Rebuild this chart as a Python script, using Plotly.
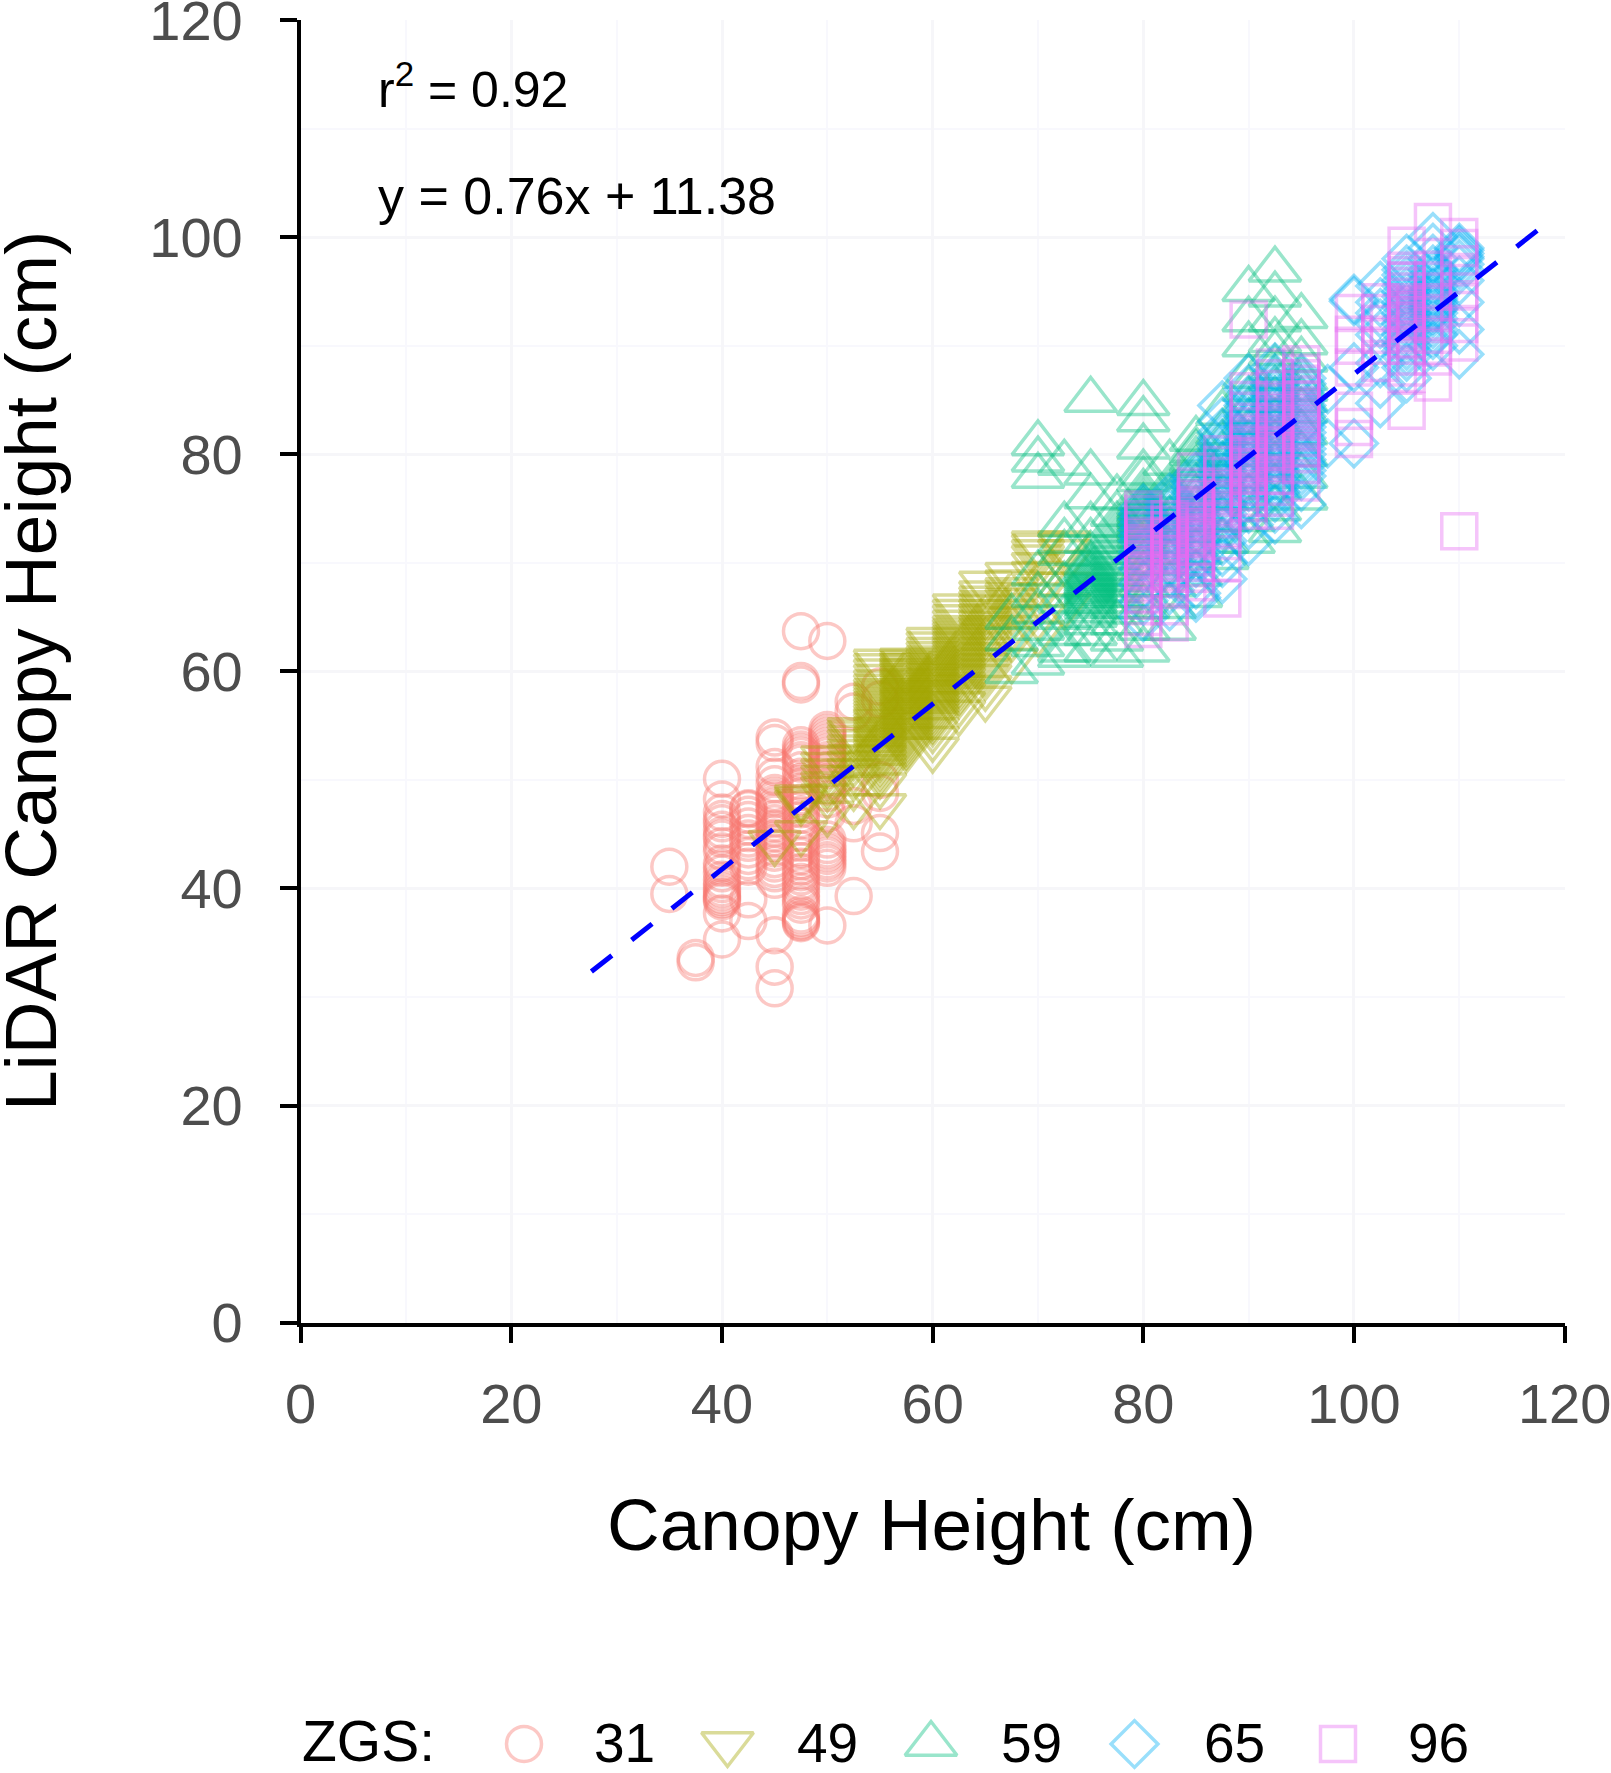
import plotly.graph_objects as go

W, H = 1611, 1773
X0, X1, Y0, Y1 = 300.7, 1564.6, 1322.7, 20.0

zgs_labels = ["31", "49", "59", "65", "96"]
zgs_colors = ["#F8766D", "#A3A500", "#00BF7D", "#00B0F6", "#E76BF3"]
zgs_symbols = ["circle-open", "triangle-down-open", "triangle-up-open", "diamond-open", "square-open"]
zgs_sizes = [35, 45, 45, 36, 35]

canopy_31 = [35, 37.5, 40, 42.5, 45, 47.5, 50, 52.5, 55]
lidar_31 = [
    [42, 39.5],
    [33.6, 33.2],
    [50.1, 48.2, 47, 46.4, 46, 45.4, 44.9, 44.6, 43.9, 43.4, 42.3, 41.9, 41.4, 40.8, 40.4, 40, 39.7, 39.4, 39.2, 39, 38.8, 37.7, 35.3],
    [47.4, 47.3, 46.8, 46.3, 45.7, 45.1, 44.6, 44.2, 43.6, 43, 42.5, 42, 39, 37],
    [53.9, 53.4, 51.2, 50.3, 49.6, 48.8, 48.5, 48.2, 47.8, 47.5, 47.2, 46.9, 46.4, 46, 45.5, 45.1, 44.6, 44.2, 43.7, 43.3, 42.7, 42.3, 41.8, 41.4, 40.8, 35.7, 32.8, 30.8],
    [63.7, 59.1, 58.8, 53.2, 52.8, 52.5, 52.2, 51.8, 51.5, 50.9, 50.3, 49.8, 49.4, 48.9, 48.5, 47.9, 47.3, 46.8, 46.3, 45.7, 45.1, 44.6, 44.2, 43.6, 43, 42.5, 42, 41.5, 41.1, 40.6, 40.2, 39.7, 39.3, 38.9, 38.5, 37.6, 37.3, 37.1, 36.9, 36.8],
    [62.8, 54.6, 54.3, 54, 53.7, 53.4, 53.1, 52.8, 52.5, 52.2, 51.8, 51.5, 50.9, 50.2, 49.8, 49.4, 48.8, 48.2, 46.9, 44.5, 44, 43.6, 43.3, 43, 42.6, 42.3, 41.9, 36.6],
    [57.2, 56.3, 47.6, 46, 39.3],
    [58.6, 57.4, 50, 48.8, 45.1, 43.4],
]

canopy_49 = [45, 47.5, 50, 52.5, 55, 57.5, 60, 62.5, 65, 67.5, 70, 72.5]
lidar_49 = [
    [44.2],
    [45.1, 47.9, 48.2, 48.4],
    [46.9, 48.5, 49.2, 49.6, 50.2, 50.8, 51.4, 52],
    [47.6, 49.3, 50.2, 50.8, 51.5, 52.1, 52.6, 53, 53.5, 53.9, 54.3, 54.6],
    [47.6, 49.5, 50.4, 50.8, 51.2, 51.6, 52, 52.2, 52.5, 52.8, 53, 53.3, 53.6, 53.8, 54.1, 54.4, 54.7, 55, 55.3, 55.5, 55.8, 56.1, 56.4, 56.7, 57, 57.3, 57.6, 57.9, 58.2, 58.6, 59, 59.5, 60, 60.5, 60.9],
    [52.8, 53.1, 53.4, 53.7, 54, 54.2, 54.5, 54.7, 55, 55.2, 55.5, 55.7, 56, 56.2, 56.4, 56.6, 56.9, 57.1, 57.3, 57.5, 57.8, 58, 58.2, 58.4, 58.7, 58.9, 59.1, 59.3, 59.6, 59.8, 60, 60.2, 60.5, 60.7, 61],
    [52.8, 53.8, 54.6, 55.2, 55.5, 55.8, 56.1, 56.4, 56.7, 57, 57.2, 57.5, 57.7, 58, 58.2, 58.5, 58.7, 59, 59.2, 59.5, 59.7, 60, 60.3, 60.6, 60.9, 61.2, 61.6, 62, 62.5, 62.9],
    [56.2, 57, 57.8, 58.1, 58.5, 58.8, 59.2, 59.5, 59.8, 60.1, 60.4, 60.7, 61, 61.3, 61.6, 61.9, 62.2, 62.5, 62.8, 63.1, 63.4, 63.7, 64, 64.5, 65, 65.5, 66],
    [57.5, 58.5, 59.5, 60, 60.5, 61, 61.5, 62, 62.5, 62.9, 63.3, 63.7, 64, 64.4, 64.8, 65.1, 65.5, 65.9, 66.3, 66.7, 67.2, 68.1],
    [61, 63, 64, 64.8, 65.5, 66, 66.5, 67, 67.5, 68.2, 68.9],
    [63.5, 65, 67, 68, 69, 69.8, 70.5, 71, 71.5, 71.8],
    [66, 68, 70, 71, 71.5, 71.8],
]

canopy_59 = [67.5, 70, 72.5, 75, 77.5, 80, 82.5, 85, 87.5, 90, 92.5, 95]
lidar_59 = [
    [60, 63, 65],
    [60.8, 62.5, 64, 65.5, 67, 69, 78, 79.5, 81],
    [61.5, 62, 63.5, 65, 66.5, 68, 70.9, 72, 73.5, 79.2],
    [62, 63.5, 64.5, 65.2, 65.6, 66, 66.3, 66.5, 66.8, 67, 67.2, 67.4, 67.6, 67.8, 68, 68.2, 68.4, 68.6, 68.8, 69, 69.2, 69.5, 69.8, 70, 70.8, 72, 73.5, 76.1, 78.3, 85],
    [61.5, 63, 64.5, 65.5, 66, 66.5, 67, 67.5, 68, 68.5, 69, 69.5, 70, 70.5, 71, 71.5, 72, 72.5, 73, 73.5, 74.5, 76],
    [62, 64, 66, 67, 68, 69, 70, 71, 71.5, 72, 72.5, 73, 73.3, 73.5, 73.8, 74, 74.3, 74.5, 74.8, 75, 75.2, 75.5, 76, 76.5, 77.7, 78.3, 80.7, 83.2, 84.7],
    [64, 66, 68, 70, 71, 72, 73, 74, 75, 75.5, 76, 76.5, 77, 79.2],
    [67, 69, 71, 73, 74, 75, 76, 77, 78, 78.6, 79, 79.5, 80.1, 80.4, 81.4],
    [70.5, 72, 74, 76, 77.5, 79, 80, 81, 82, 83.8],
    [72, 74, 76, 78, 80, 81, 82, 83, 84, 85, 86, 87.2, 90.1, 92.4, 95.2],
    [73, 75, 77, 79, 81, 83, 85, 86, 87, 88, 89.3, 90.5, 92.4, 94.7, 97],
    [76, 78, 80, 82, 84, 85, 86, 87, 88.7, 90.3, 92.7],
]

canopy_65 = [80, 82.5, 85, 87.5, 90, 92.5, 95, 97.5, 100, 102.5, 105, 107.5, 110]
lidar_65 = [
    [65, 66.5, 68, 69.5, 70.5, 71, 72, 72.5, 73, 73.5, 74, 74.5, 75],
    [66, 67.5, 69, 70, 70.5, 71, 71.5, 72, 72.5, 73, 73.5, 74, 74.5, 75, 75.5, 76],
    [66.8, 67.2, 68, 69, 70, 70.5, 71, 71.5, 72, 72.5, 73, 73.5, 74, 74.5, 75, 75.5, 76, 76.5, 77, 77.5, 78],
    [68.5, 70, 71, 72, 73, 73.5, 74, 74.5, 75, 75.5, 76, 76.5, 77, 77.5, 78, 78.5, 79, 79.5, 80, 80.5, 81, 81.5, 82, 83, 84.5],
    [72, 73.5, 75, 76, 77, 77.5, 78, 78.5, 79, 79.5, 80, 80.5, 81, 81.5, 82, 82.5, 83, 83.5, 84, 84.5, 85, 86, 87],
    [74, 75, 76, 76.5, 77, 77.5, 78, 78.5, 79, 79.5, 80, 80.5, 81, 81.5, 82, 82.5, 83, 83.5, 84, 84.5, 85, 85.5, 86, 86.5, 87, 88],
    [75.4, 77, 78, 78.5, 79, 79.5, 80, 80.5, 81, 81.5, 82, 82.5, 83, 83.5, 84, 84.5, 85, 85.5, 86, 86.5, 87],
    [81, 86],
    [81, 88, 94.1, 94.3],
    [84.7, 86.5, 88.4, 91, 92, 93, 94, 95.5],
    [87, 88, 89, 89.5, 90, 90.5, 91, 91.5, 92, 92.5, 93, 93.5, 94, 94.5, 95, 95.5, 96, 96.5, 97, 98],
    [90, 91, 91.5, 92, 92.5, 93, 93.3, 93.5, 93.8, 94, 94.3, 94.5, 94.8, 95, 95.5, 96, 96.5, 97, 98, 99, 100],
    [89.2, 91.5, 94, 96, 97, 97.5, 98, 98.2, 98.5, 98.8, 99],
]

canopy_96 = [80, 82.5, 85, 87.5, 90, 92.5, 95, 100, 102.5, 105, 107.5, 110]
lidar_96 = [
    [63.9, 65, 66, 66.5, 67, 67.5, 68, 68.5, 69, 69.3, 69.5, 69.8, 70, 70.3, 70.5, 70.8, 71, 71.3, 71.5, 71.8, 72, 72.3, 72.5, 73, 73.5, 74, 74.5, 74.9],
    [64.5, 66, 67.5, 68.5, 69, 69.5, 70, 70.2, 70.5, 70.8, 71, 71.3, 71.5, 71.8, 72, 72.3, 72.5, 73, 73.5, 74],
    [68.2, 69, 69.5, 70, 70.5, 71, 71.5, 72, 72.3, 72.5, 72.8, 73, 73.3, 73.5, 73.8, 74, 74.3, 74.5, 74.8, 75, 75.3, 75.5, 75.8, 76, 76.5, 77, 78.4],
    [66.7, 70, 72, 73, 74, 74.5, 75, 75.5, 76, 76.5, 77, 78, 79, 80],
    [74.8, 75.5, 76, 76.5, 77, 77.5, 78, 78.3, 78.5, 78.8, 79, 79.3, 79.5, 79.8, 80, 80.5, 81, 81.5, 82, 83, 84, 85, 85.8, 92.4],
    [74.8, 76, 77, 78, 79, 79.5, 80, 80.3, 80.5, 80.8, 81, 81.3, 81.5, 82, 82.5, 83, 83.5, 84, 85, 86, 87, 88],
    [77.4, 79, 80, 80.5, 81, 81.5, 82, 82.5, 83, 83.5, 84, 84.5, 85, 85.5, 86, 86.5, 87, 87.5, 88.3],
    [81.4, 82.5, 84, 88, 90, 91, 93],
    [88.4, 90, 91, 92, 93, 94],
    [84, 87.4, 88, 89, 90, 90.5, 91, 91.5, 92, 92.3, 92.5, 92.8, 93, 93.3, 93.5, 93.8, 94, 94.5, 95, 95.5, 96, 96.5, 96.9, 99.2],
    [86.6, 89, 90, 91, 92, 93, 94, 95, 96, 97, 101.4],
    [72.9, 90.3, 92, 94, 95, 96.5, 97.5, 99, 100],
]

fit_slope = 0.76
fit_intercept = 11.38
fit_x = [27.6, 117.6]
axis_ticks = [0, 20, 40, 60, 80, 100, 120]
legend_slots = [0, 1, 2, 3, 4]

FONT = "Liberation Sans"
GRID_MAJOR = "#f6f6f9"
GRID_MINOR = "#f8f8fd"

canopy_all = [canopy_31, canopy_49, canopy_59, canopy_65, canopy_96]
lidar_all = [lidar_31, lidar_49, lidar_59, lidar_65, lidar_96]

fig = go.Figure()
for i, label in enumerate(zgs_labels):
    xs, ys = [], []
    for c, col in zip(canopy_all[i], lidar_all[i]):
        xs += [c] * len(col)
        ys += col
    fig.add_trace(go.Scatter(
        x=xs, y=ys, mode="markers", name=label, showlegend=False,
        marker=dict(symbol=zgs_symbols[i], size=zgs_sizes[i], color=zgs_colors[i],
                    opacity=0.4, line=dict(width=3.5, color=zgs_colors[i])),
    ))

fig.add_trace(go.Scatter(
    x=fit_x, y=[fit_slope * v + fit_intercept for v in fit_x],
    mode="lines", showlegend=False,
    line=dict(color="#0000FF", width=5, dash="26px,25.1px"),
))

# Legend row: keys on a helper axis spanning the whole page width
KEY0, KEY_STEP = 524.0, 203.5
for i, label in enumerate(zgs_labels):
    fig.add_trace(go.Scatter(
        x=[legend_slots[i]], y=[0], xaxis="x2", yaxis="y2", mode="markers",
        showlegend=False, cliponaxis=False,
        marker=dict(symbol=zgs_symbols[i], size=zgs_sizes[i], color=zgs_colors[i],
                    opacity=0.4, line=dict(width=3.5, color=zgs_colors[i])),
    ))


def note(text, px, py, size, xanchor="center", color="black", angle=0):
    return dict(text=text, x=px / W, y=1 - py / H, xref="paper", yref="paper",
                showarrow=False, xanchor=xanchor, yanchor="middle", textangle=angle,
                font=dict(family=FONT, size=size, color=color))


annotations = [
    note("Canopy Height (cm)", 932, 1524, 73),
    note("LiDAR Canopy Height (cm)", 30, 671, 73, angle=-90),
    note("r<sup>2</sup> = 0.92", 376, 86, 50, xanchor="left"),
    note("y = 0.76x + 11.38", 376, 196, 52, xanchor="left"),
    note("ZGS:", 300, 1741, 57, xanchor="left"),
]
for i, label in enumerate(zgs_labels):
    annotations.append(note(label, 624 + KEY_STEP * i, 1743, 55))

axis_style = dict(
    range=[0, 120], tickmode="array", tickvals=axis_ticks, ticktext=[str(t) for t in axis_ticks],
    showline=True, linecolor="black", linewidth=3.5, ticks="outside", ticklen=17, tickwidth=3.5,
    tickcolor="black", tickfont=dict(family=FONT, size=56, color="#4d4d4d"),
    ticklabeloverflow="allow", showgrid=True, gridcolor=GRID_MAJOR, gridwidth=3,
    zeroline=False, automargin=False,
    minor=dict(tickmode="array", tickvals=[10, 30, 50, 70, 90, 110], showgrid=True,
               gridcolor=GRID_MINOR, gridwidth=2, ticks=""),
)

fig.update_layout(
    width=W, height=H, margin=dict(l=0, r=0, t=0, b=0),
    paper_bgcolor="white", plot_bgcolor="white", showlegend=False,
    xaxis=dict(domain=[X0 / W, X1 / W], anchor="y", ticklabelstandoff=12, **axis_style),
    yaxis=dict(domain=[1 - Y0 / H, 1 - Y1 / H], anchor="x", ticklabelstandoff=26, **axis_style),
    xaxis2=dict(domain=[0, 1], anchor="y2", range=[-KEY0 / KEY_STEP, (W - KEY0) / KEY_STEP], visible=False),
    yaxis2=dict(domain=[1 - 1773 / H, 1 - 1715 / H], anchor="x2", range=[-1, 1], visible=False),
    annotations=annotations,
)

fig.write_html("out.html", config={"displayModeBar": False},
               post_script="document.body.style.margin='0';document.body.style.overflow='hidden';")
